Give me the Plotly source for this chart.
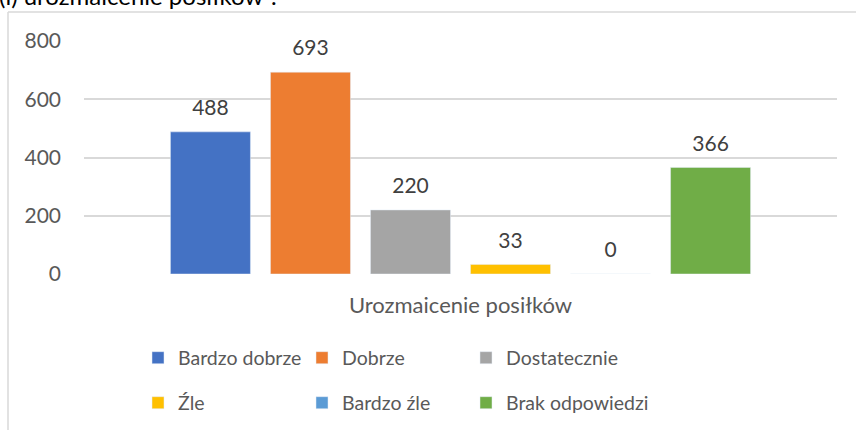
import plotly.graph_objects as go

categories = ["Urozmaicenie posiłków"]
series_names = ["Bardzo dobrze", "Dobrze", "Dostatecznie", "Źle", "Bardzo źle", "Brak odpowiedzi"]
series_values = [488, 693, 220, 33, 0, 366]
colors = ["#4472C4", "#ED7D31", "#A5A5A5", "#FFC000", "#5B9BD5", "#70AD47"]
y_ticks = [0, 200, 400, 600, 800]
title_text = "(i) urozmaicenie posiłków ?"

W, H = 856, 430
ML, MR, MT, MB = 84, 19, 41, 156
plot_w = W - ML - MR
plot_h = H - MT - MB
FONT = "Lato"
GAP = 0.203

def px_x(x):
    return (x - ML) / plot_w

def px_y(y):
    return (H - MB - y) / plot_h

fig = go.Figure()
for i, (name, val, col) in enumerate(zip(series_names, series_values, colors)):
    legend_id = "legend" if i < 3 else "legend2"
    fig.add_trace(go.Bar(
        x=categories, y=[val], name=name, marker_color=col,
        offsetgroup=str(i), legend=legend_id, hoverinfo="skip",
    ))
for i, val in enumerate(series_values):
    fig.add_trace(go.Scatter(
        x=categories, y=[val], mode="markers+text", text=[str(val)],
        textposition="top center", offsetgroup=str(i),
        marker=dict(size=17, color="rgba(0,0,0,0)"),
        textfont=dict(family=FONT, size=21, color="#404040"),
        showlegend=False, hoverinfo="skip", cliponaxis=False,
    ))
# empty spacer entry so that the last legend label is not clipped
fig.add_trace(go.Scatter(
    x=[None], y=[None], xaxis="x2", yaxis="y2", mode="markers",
    marker=dict(color="rgba(0,0,0,0)"), name=" ", legend="legend2",
    hoverinfo="skip",
))

legend_common = dict(
    orientation="h", xanchor="left", yanchor="middle",
    font=dict(family=FONT, size=19.5, color="#595959"),
    entrywidth=119, entrywidthmode="pixels",
    bgcolor="rgba(0,0,0,0)", itemclick=False, itemdoubleclick=False,
)

fig.update_layout(
    width=W, height=H,
    margin=dict(l=ML, r=MR, t=MT, b=MB, autoexpand=False),
    paper_bgcolor="white", plot_bgcolor="white",
    barmode="group", bargap=GAP, bargroupgap=0.2,
    scattermode="group", scattergap=GAP,
    showlegend=True,
    legend=dict(x=px_x(138), y=px_y(358), **legend_common),
    legend2=dict(x=px_x(138), y=px_y(403), **legend_common),
    xaxis=dict(
        showgrid=False, showline=False, zeroline=False,
        tickfont=dict(family=FONT, size=22, color="#595959"),
        ticklabelstandoff=16,
    ),
    xaxis2=dict(visible=False, overlaying="x"),
    yaxis2=dict(visible=False, overlaying="y"),
    yaxis=dict(
        range=[0, 800], tickvals=y_ticks,
        showgrid=True, gridcolor="#D9D9D9", gridwidth=1.5,
        zeroline=False, showline=False,
        tickfont=dict(family=FONT, size=21, color="#595959"),
        ticklabelstandoff=22,
    ),
    font=dict(family=FONT),
    annotations=[dict(
        text=title_text, xref="paper", yref="paper",
        x=px_x(-3), y=px_y(12), xanchor="left", yanchor="bottom",
        showarrow=False, font=dict(family=FONT, size=24, color="#000000"),
    )],
    shapes=[
        dict(type="line", xref="paper", yref="paper",
             x0=px_x(8), x1=px_x(W + 5), y0=px_y(12), y1=px_y(12),
             line=dict(color="#D9D9D9", width=1.5)),
        dict(type="line", xref="paper", yref="paper",
             x0=px_x(8), x1=px_x(8), y0=px_y(12), y1=px_y(H + 5),
             line=dict(color="#D9D9D9", width=1.5)),
    ],
)

fig.write_html(
    "out.html",
    config={"displayModeBar": False},
    post_script="document.body.style.margin='0px';",
)
